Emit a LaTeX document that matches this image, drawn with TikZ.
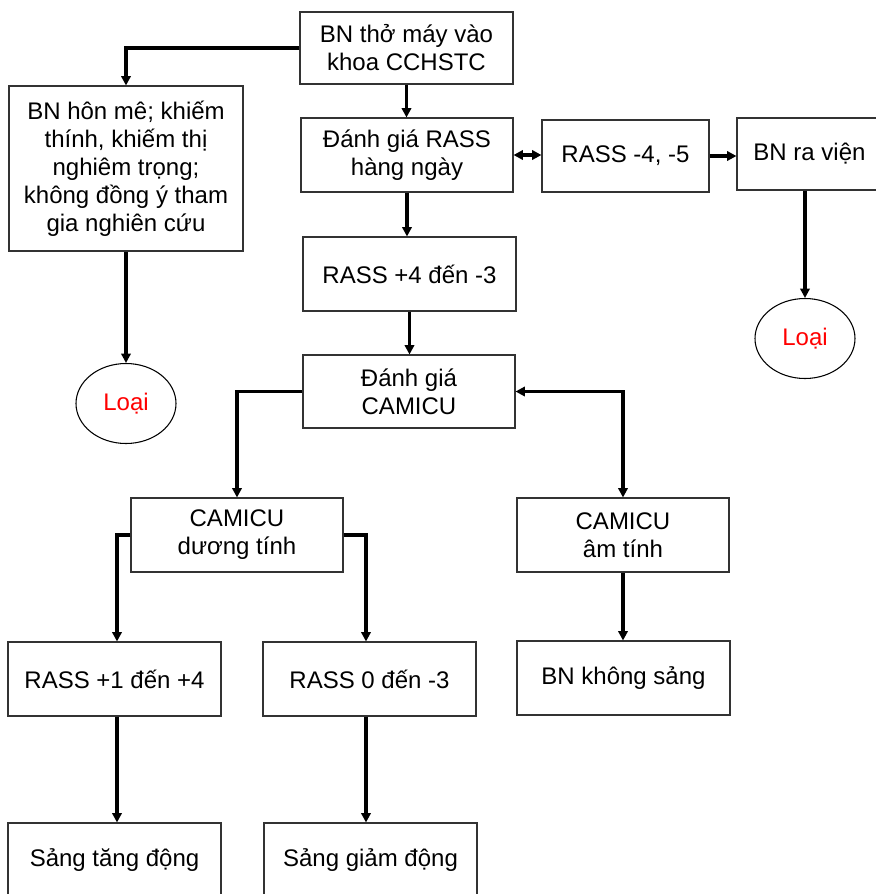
\documentclass[tikz,border=0pt]{standalone}
\usepackage{fontspec}
\setmainfont{Liberation Sans}
\usetikzlibrary{arrows.meta,shapes.geometric}
\begin{document}
\begin{tikzpicture}[x=0.75pt,y=-0.75pt,
  flowbox/.style 2 args={draw=black!80, line width=0.8pt, rectangle, align=center, inner sep=0pt,
    minimum width=#1*0.75pt, minimum height=#2*0.75pt,
    font=\fontsize{18}{21}\selectfont},
  oval/.style={draw=black, line width=0.8pt, ellipse, inner sep=0pt,
    minimum width=100*0.75pt, minimum height=80*0.75pt, text=red,
    font=\fontsize{18}{21}\selectfont},
  arr/.style={line width=2.5pt, -{Triangle[length=7pt,width=7pt]}},
  darr/.style={line width=2.5pt, {Triangle[length=7pt,width=7pt]}-{Triangle[length=7pt,width=7pt]}}]
\useasboundingbox (0,0) rectangle (876,894);
\clip (0,0) rectangle (876,894);
\fill[white] (0,0) rectangle (876,894);

\node[flowbox={213}{72}] (n1) at (406.5,48) {BN thở máy vào\\khoa CCHSTC};
\node[flowbox={234}{165}] (excl) at (126,168.5) {BN hôn mê; khiếm\\thính, khiếm thị\\nghiêm trọng;\\không đồng ý tham\\gia nghiên cứu};
\node[flowbox={212}{74}] (rass) at (407,155) {Đánh giá RASS\\hàng ngày};
\node[flowbox={167}{72}] (rass45) at (625.5,156) {RASS -4, -5};
\node[flowbox={145}{72}] (ravien) at (809.5,154) {BN ra viện};
\node[oval] (loai2) at (805,338.5) {Loại};
\node[flowbox={213}{74}] (rass43) at (409.5,274) {RASS +4 đến -3};
\node[flowbox={212}{73}] (camicu) at (409,391.5) {Đánh giá\\CAMICU};
\node[oval] (loai1) at (126,403.5) {Loại};
\node[flowbox={212}{74}] (duong) at (237,535) {CAMICU\\dương tính};
\node[flowbox={212}{74}] (am) at (623,535) {CAMICU\\âm tính};
\node[flowbox={213}{74}] (khong) at (623.5,678) {BN không sảng};
\node[flowbox={213}{74}] (rass14) at (114.5,679) {RASS +1 đến +4};
\node[flowbox={213}{74}] (rass03) at (369.5,679) {RASS 0 đến -3};
\node[flowbox={213}{74}] (tang) at (114.5,860) {Sảng tăng động};
\node[flowbox={213}{74}] (giam) at (370.5,860) {Sảng giảm động};
\coordinate (colL) at (117,0);
\coordinate (colR) at (366,0);

\draw[arr] (n1.west) -| (excl.north);
\draw[arr] (n1.south) -- (n1.south |- rass.north);
\draw[darr] (rass.east) -- (rass.east -| rass45.west);
\draw[arr] (rass45.east) -- (rass45.east -| ravien.west);
\draw[arr] (loai2.north |- ravien.south) -- (loai2.north);
\draw[arr] (excl.south) -- (loai1.north);
\draw[arr] (rass.south) -- (rass.south |- rass43.north);
\draw[arr] (rass43.south) -- (rass43.south |- camicu.north);
\draw[arr] (camicu.west) -| (duong.north);
\draw[darr] (camicu.east) -| (am.north);
\draw[arr] (am.south) -- (am.south |- khong.north);
\draw[arr] (duong.west) -| (colL |- rass14.north);
\draw[arr] (duong.east) -| (colR |- rass03.north);
\draw[arr] (colL |- rass14.south) -- (colL |- tang.north);
\draw[arr] (colR |- rass03.south) -- (colR |- giam.north);
\end{tikzpicture}
\end{document}
